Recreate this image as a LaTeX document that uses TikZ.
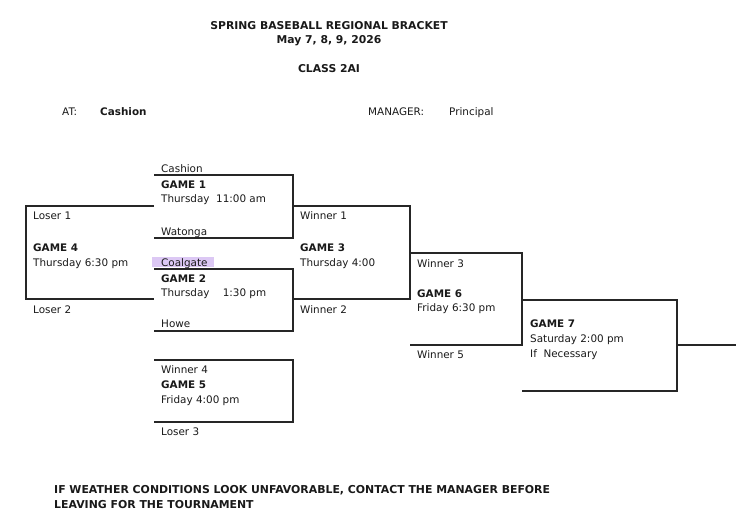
\documentclass[tikz,border=0pt]{standalone}
\usepackage{fontspec}
\setmainfont{DejaVu Sans}
\usepackage{tikz}
\usetikzlibrary{calc}
\definecolor{hilite}{HTML}{DCC8F4}

\begin{document}
\begin{tikzpicture}[x=1pt,y=-1pt,
    txt/.style={anchor=base west,inner sep=0pt,text=black!90,font=\fontsize{10.4}{12}\selectfont},
    hd/.style={txt,font=\fontsize{10.4}{12}\selectfont\bfseries},
    ttl/.style={anchor=base,inner sep=0pt,text=black!90,font=\fontsize{10.8}{12}\selectfont\bfseries},
    bline/.style={line width=1.4pt,black!85}]
      \useasboundingbox (0,0) rectangle (750,515);
      % heading
      \node[ttl] (title) at (329,29) {SPRING BASEBALL REGIONAL BRACKET};
      \node[ttl] (dates) at (329,43) {May 7, 8, 9, 2026};
      \node[ttl] (class) at (329,72) {CLASS 2AI};
      \node[txt] (at) at (62,115) {AT:};
      \node[hd] (site) at (100,115) {Cashion};
      \node[txt] (mgr) at (368,115) {MANAGER:};
      \node[txt] (prin) at (449,115) {Principal};
      % highlight
      \fill[hilite] (152,257) rectangle (214,267);
      % first round
      \node[txt] (cashion) at (161,172) {Cashion};
      \node[hd] (g1) at (161,188) {GAME 1};
      \node[txt] (t1) at (161,202) {Thursday\ \ 11:00 am};
      \node[txt] (watonga) at (161,235) {Watonga};
      \node[txt] (coalgate) at (161,266) {Coalgate};
      \node[hd] (g2) at (161,282) {GAME 2};
      \node[txt] (t2) at (161,296) {Thursday\ \ \ \ 1:30 pm};
      \node[txt] (howe) at (161,327) {Howe};
      % game 4
      \node[txt] (l1) at (33,219) {Loser 1};
      \node[hd] (g4) at (33,251) {GAME 4};
      \node[txt] (t4) at (33,266) {Thursday 6:30 pm};
      \node[txt] (l2) at (33,313) {Loser 2};
      % game 3
      \node[txt] (w1) at (300,219) {Winner 1};
      \node[hd] (g3) at (300,251) {GAME 3};
      \node[txt] (t3) at (300,266) {Thursday 4:00};
      \node[txt] (w2) at (300,313) {Winner 2};
      % game 5
      \node[txt] (w4) at (161,373) {Winner 4};
      \node[hd] (g5) at (161,388) {GAME 5};
      \node[txt] (t5) at (161,403) {Friday 4:00 pm};
      \node[txt] (l3) at (161,435) {Loser 3};
      % game 6
      \node[txt] (w3) at (417,267) {Winner 3};
      \node[hd] (g6) at (417,297) {GAME 6};
      \node[txt] (t6) at (417,311) {Friday 6:30 pm};
      \node[txt] (w5) at (417,358) {Winner 5};
      % game 7
      \node[hd] (g7) at (530,327) {GAME 7};
      \node[txt] (t7) at (530,342) {Saturday 2:00 pm};
      \node[txt] (ifn) at (530,357) {If\ \ Necessary};
      % footer
      \node[hd,font=\fontsize{10.9}{12}\selectfont\bfseries] (note1) at (54,493) {IF WEATHER CONDITIONS LOOK UNFAVORABLE, CONTACT THE MANAGER BEFORE};
      \node[hd,font=\fontsize{10.9}{12}\selectfont\bfseries] (note2) at (54,508) {LEAVING FOR THE TOURNAMENT};
      % bracket lines
      \draw[bline] (154,175) -- (293,175) -- (293,238) -- (154,238);
      \draw[bline] (154,269) -- (293,269) -- (293,331) -- (154,331);
      \draw[bline] (154,206) -- (26,206) -- (26,299) -- (154,299);
      \draw[bline] (293,206) -- (410,206) -- (410,299) -- (293,299);
      \draw[bline] (154,360) -- (293,360) -- (293,422) -- (154,422);
      \draw[bline] (410,253) -- (522,253) -- (522,345) -- (410,345);
      \draw[bline] (522,300) -- (677,300) -- (677,391) -- (522,391);
      \draw[bline] (677,345) -- (736,345);
\end{tikzpicture}
\end{document}
